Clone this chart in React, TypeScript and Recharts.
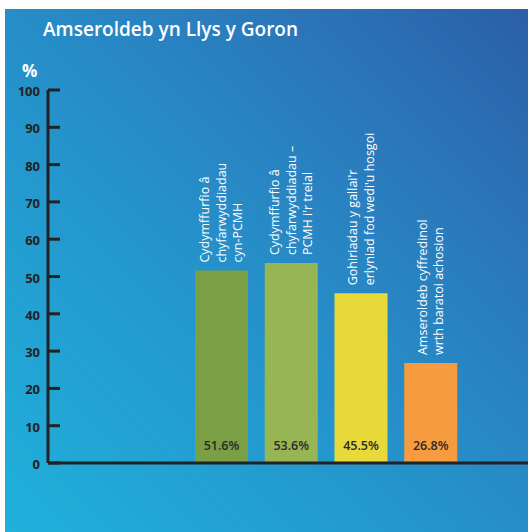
import { BarChart, Bar, XAxis, YAxis, Cell, LabelList } from "recharts";

const categories = ["cyn-PCMH", "PCMH i'r treial", "gohiriadau", "amseroldeb"];
const labelLines = [
    ["Cydymffurfio â", "chyfarwyddiadau", "cyn-PCMH"],
    ["Cydymffurfio â", "chyfarwyddiadau –", "PCMH i'r treial"],
    ["Gohiriadau y gallai'r", "erlyniad fod wedi'u hosgoi"],
    ["Amseroldeb cyffredinol", "wrth baratoi achosion"],
];
const values = [51.6, 53.6, 45.5, 26.8];
const barColors = ["#7a9f45", "#98b553", "#e8d93a", "#f79c3e"];
const yTicks = [0, 10, 20, 30, 40, 50, 60, 70, 80, 90, 100];

const data = categories.map((name, i) => ({ name, value: values[i], lines: labelLines[i] }));

const FONT = "'Open Sans', sans-serif";

const YTick = (props: any) => {
    const { x, y, payload } = props;
    return (
        <g>
            <line x1={x} x2={x + 12} y1={y} y2={y} stroke="#222" strokeWidth={3} />
            <text x={x - 8} y={y + 1} textAnchor="end" dominantBaseline="central" fill="#222" fontSize={13} fontWeight={700} fontFamily={FONT}>
                {payload.value}
            </text>
        </g>
    );
};

const CategoryLabel = (props: any) => {
    const { x, y, width, index } = props;
    const lines = labelLines[index];
    const cx = x + width / 2;
    const by = y - 8;
    return (
        <g>
            {lines.map((line, i) => {
                const lx = cx + (i - (lines.length - 1) / 2) * 16.5;
                return (
                    <text
                        key={i}
                        x={lx}
                        y={by}
                        transform={`rotate(-90 ${lx} ${by})`}
                        textAnchor="start"
                        dominantBaseline="central"
                        fill="#ffffff"
                        fontSize={12.5}
                        fontWeight={500}
                        fontFamily={FONT}
                    >
                        {line}
                    </text>
                );
            })}
        </g>
    );
};

const ValueLabel = (props: any) => {
    const { x, y, width, height, value } = props;
    return (
        <text x={x + width / 2} y={y + height - 18} textAnchor="middle" dominantBaseline="central" fill="#2a2a2a" fontSize={12.5} fontWeight={600} fontFamily={FONT}>
            {`${value}%`}
        </text>
    );
};

export default function App() {
    return (
        <div style={{ position: "absolute", left: 0, top: 0, width: 528, height: 532, background: "#fff", overflow: "hidden" }}>
            <div
                style={{
                    position: "absolute",
                    left: 5,
                    top: 9,
                    right: 0,
                    bottom: 0,
                    background: "linear-gradient(45deg, #1fb1db 0%, #2496cd 40%, #2a7cbd 70%, #2b5fa8 100%)",
                }}
            />
            <div style={{ position: "absolute", left: 43, top: 20, color: "#fff", fontFamily: FONT, fontWeight: 600, fontSize: 19, lineHeight: "19px", whiteSpace: "nowrap" }}>
                Amseroldeb yn Llys y Goron
            </div>
            <div style={{ position: "absolute", left: 22, top: 62, color: "#fff", fontFamily: FONT, fontWeight: 700, fontSize: 17, lineHeight: "17px" }}>
                %
            </div>
            <div style={{ position: "absolute", left: 0, top: 0 }}>
                <BarChart width={528} height={532} data={data} margin={{ top: 90, right: 0, bottom: 59, left: 0 }}>
                    <XAxis
                        dataKey="name"
                        height={10}
                        tick={false}
                        tickLine={false}
                        axisLine={{ stroke: "#222", strokeWidth: 3 }}
                        padding={{ left: 139, right: 62 }}
                    />
                    <YAxis
                        width={48}
                        domain={[0, 100]}
                        ticks={yTicks}
                        interval={0}
                        tickSize={0}
                        tickMargin={0}
                        tickLine={false}
                        axisLine={{ stroke: "#222", strokeWidth: 3 }}
                        tick={<YTick />}
                    />
                    <Bar dataKey="value" barSize={53} isAnimationActive={false}>
                        {data.map((d, i) => (
                            <Cell key={d.name} fill={barColors[i]} />
                        ))}
                        <LabelList dataKey="value" content={<CategoryLabel />} />
                        <LabelList dataKey="value" content={<ValueLabel />} />
                    </Bar>
                </BarChart>
            </div>
        </div>
    );
}
